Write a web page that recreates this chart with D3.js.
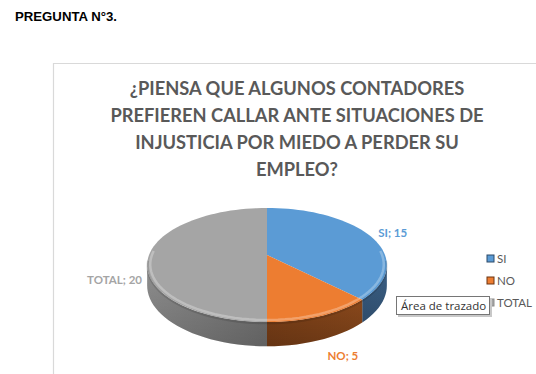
<!DOCTYPE html>
<html>
<head>
<meta charset="utf-8">
<script src="https://cdn.jsdelivr.net/npm/d3@7"></script>
<style>
  body { margin: 0; background: #fff; }
  svg { display: block; }
</style>
</head>
<body>
<div id="viz"></div>
<script>
const header = 'PREGUNTA N°3.';
const titleLines = [
  '¿PIENSA QUE ALGUNOS CONTADORES',
  'PREFIEREN CALLAR ANTE SITUACIONES DE',
  'INJUSTICIA POR MIEDO A PERDER SU',
  'EMPLEO?'
];
const categories = ['SI', 'NO', 'TOTAL'];
const values = [15, 5, 20];
const colors = ['#5b9bd5', '#ed7d31', '#a5a5a5'];
const sideColors = [['#2c4a68', '#3a5f85'], ['#6a3412', '#8c4a1c'], ['#8e8e8e', '#5e5e5e']];

const W = 536, H = 374;
const svg = d3.select('#viz').append('svg').attr('width', W).attr('height', H);

svg.append('text')
  .attr('x', 15).attr('y', 21)
  .attr('font-family', 'Liberation Sans, Arial, sans-serif')
  .attr('font-weight', 'bold').attr('font-size', '13.2px')
  .attr('fill', '#000')
  .text(header);

// chart area frame (runs off the right and bottom edges)
svg.append('path')
  .attr('d', `M53.5,${H + 2}V63.5H${W + 2}`)
  .attr('fill', 'none').attr('stroke', '#d9d9d9').attr('stroke-width', 1.2);

svg.append('g').selectAll('text').data(titleLines).join('text')
  .attr('x', 297).attr('y', (d, i) => 95 + i * 27)
  .attr('text-anchor', 'middle')
  .attr('font-family', 'Lato, sans-serif')
  .attr('font-weight', 'bold').attr('font-size', '18.3px')
  .attr('fill', '#595959')
  .text(d => d);

// 3D pie with a simple perspective projection
const cx = 267, cy = 255, rx = 118, ry = 55.3, k = 0.175, depth = 20;
function proj(a, r = 1) {
  const u = r * Math.sin(a), v = -r * Math.cos(a);
  const s = 1 / (1 - k * v);
  return [cx + rx * u * s, cy + ry * v * s, depth * s];
}

const pie = d3.pie().sort(null).value(d => d.value)(categories.map((c, i) => ({ name: c, value: values[i], i })));

const defs = svg.append('defs');
pie.forEach(p => {
  const g = defs.append('linearGradient').attr('id', 'side' + p.data.i)
    .attr('gradientUnits', 'userSpaceOnUse')
    .attr('x1', cx - rx).attr('x2', cx + rx).attr('y1', 0).attr('y2', 0);
  g.append('stop').attr('offset', '0%').attr('stop-color', sideColors[p.data.i][0]);
  g.append('stop').attr('offset', '100%').attr('stop-color', sideColors[p.data.i][1]);
});
const shadeV = defs.append('linearGradient').attr('id', 'shadeV').attr('x1', 0).attr('x2', 0).attr('y1', 0).attr('y2', 1);
shadeV.append('stop').attr('offset', '0%').attr('stop-color', '#000').attr('stop-opacity', 0);
shadeV.append('stop').attr('offset', '100%').attr('stop-color', '#000').attr('stop-opacity', 0.18);

const ts = Math.acos(-k), te = 2 * Math.PI - ts;
const N = 60;
function arcPts(a0, a1, r = 1) {
  const n = Math.max(2, Math.ceil(N * (a1 - a0) / Math.PI));
  return d3.range(n + 1).map(j => proj(a0 + (a1 - a0) * j / n, r));
}

const pieG = svg.append('g');
// sides
pie.forEach(p => {
  const a0 = Math.max(p.startAngle, ts), a1 = Math.min(p.endAngle, te);
  if (a1 <= a0) return;
  const top = arcPts(a0, a1);
  const bot = top.slice().reverse().map(q => [q[0], q[1] + q[2]]);
  const pts = top.map(q => [q[0], q[1]]).concat(bot);
  pieG.append('path').attr('d', 'M' + pts.join('L') + 'Z')
    .attr('fill', `url(#side${p.data.i})`);
  pieG.append('path').attr('d', 'M' + pts.join('L') + 'Z')
    .attr('fill', 'url(#shadeV)');
});
// top faces
pie.forEach(p => {
  const pts = [[cx, cy]].concat(arcPts(p.startAngle, p.endAngle).map(q => [q[0], q[1]]));
  pieG.append('path').attr('d', 'M' + pts.join('L') + 'Z')
    .attr('fill', colors[p.data.i]);
});
// bevel highlight along the front rim
const rimPts = arcPts(ts - 0.25, te + 0.25, 0.975).map(q => [q[0], q[1]]);
pieG.append('path').attr('d', 'M' + rimPts.join('L'))
  .attr('fill', 'none').attr('stroke', '#fff').attr('stroke-opacity', 0.28).attr('stroke-width', 2.5);
const rimPts2 = arcPts(ts - 0.1, te + 0.1, 0.998).map(q => [q[0], q[1] + 1.5]);
pieG.append('path').attr('d', 'M' + rimPts2.join('L'))
  .attr('fill', 'none').attr('stroke', '#000').attr('stroke-opacity', 0.12).attr('stroke-width', 2);

// data labels
const labelG = svg.append('g')
  .attr('font-family', 'Lato, sans-serif').attr('font-weight', 'bold').attr('font-size', '11.5px');
pie.forEach(p => {
  const a = (p.startAngle + p.endAngle) / 2;
  const [x, y, d] = proj(a);
  const u = Math.sin(a), v = -Math.cos(a);
  let anchor = 'middle', lx = x, ly = y;
  if (v > 0.7) { ly = y + d + 20; lx = x + 22; }
  else if (u > 0) { anchor = 'start'; lx = x + 9; ly = y + 2; }
  else { anchor = 'end'; lx = x - 7; ly = y + d + 9; }
  labelG.append('text')
    .attr('x', lx).attr('y', ly)
    .attr('text-anchor', anchor)
    .attr('fill', colors[p.data.i])
    .text(`${p.data.name}; ${p.data.value}`);
});

// legend
const leg = svg.append('g').attr('transform', 'translate(487,255)');
categories.forEach((c, i) => {
  const row = leg.append('g').attr('transform', `translate(0,${i * 22})`);
  row.append('rect').attr('width', 7).attr('height', 7)
    .attr('fill', colors[i]).attr('stroke', sideColors[i][0]).attr('stroke-width', 1);
  row.append('text').attr('x', 10).attr('y', 7.5)
    .attr('font-family', 'Lato, sans-serif').attr('font-size', '11.5px')
    .attr('fill', '#595959').text(c);
});

// hover tooltip seen in the reference
const tip = svg.append('g').attr('transform', 'translate(396,296)');
tip.append('rect').attr('x', 2).attr('y', 2).attr('width', 94).attr('height', 19).attr('fill', '#c8c8c8');
tip.append('rect').attr('x', 0.5).attr('y', 0.5).attr('width', 93).attr('height', 18)
  .attr('fill', '#fff').attr('stroke', '#767676');
tip.append('text').attr('x', 5).attr('y', 13.5)
  .attr('font-family', 'Open Sans, sans-serif').attr('font-size', '11.5px')
  .attr('fill', '#333').text('Área de trazado');
</script>
</body>
</html>
